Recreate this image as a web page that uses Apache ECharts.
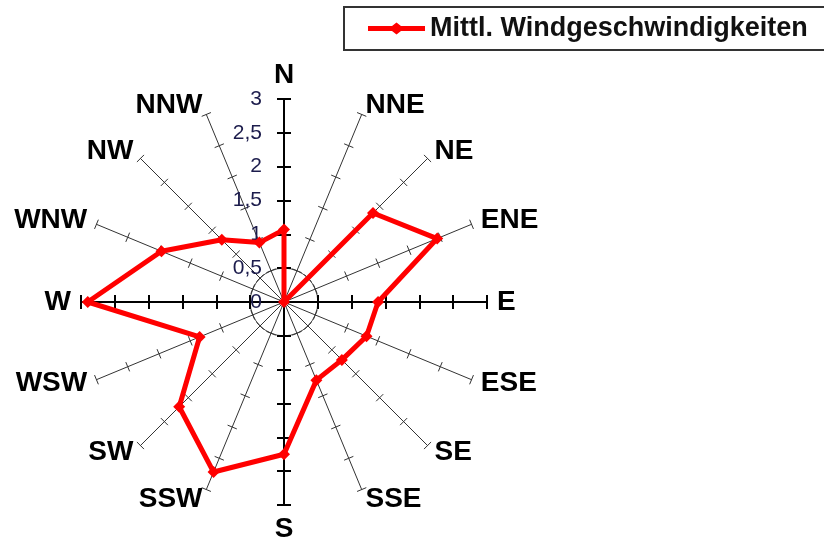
<!DOCTYPE html>
<html><head><meta charset="utf-8">
<script src="https://cdn.jsdelivr.net/npm/echarts@6/dist/echarts.min.js"></script>
<style>html,body{margin:0;padding:0;background:#fff}#c{width:824px;height:540px}</style>
</head><body><div id="c"></div>
<script>
// ---- data ----
const directions = ['N','NNE','NE','ENE','E','ESE','SE','SSE','S','SSW','SW','WSW','W','WNW','NW','NNW'];
const speeds = [1.07, 0, 1.86, 2.45, 1.39, 1.32, 1.21, 1.25, 2.25, 2.72, 2.19, 1.35, 2.9, 1.96, 1.30, 0.95];
const cardinals = ['N','W','S','E'];
const rTickLabels = ['0','0,5','1','1,5','2','2,5','3'];
const seriesName = 'Mittl. Windgeschwindigkeiten';
const rMin = 0, rMax = 3, rStep = 0.5;

// ---- layout ----
const CENTER = [284, 302];
const R = 203;
const FONT = 'Liberation Sans, Arial, sans-serif';

// radar goes counter-clockwise from top; reorder so compass runs clockwise
const ccw = directions.map((_, i) => (directions.length - i) % directions.length);
const ind16 = ccw.map(i => ({ name: directions[i], min: rMin, max: rMax }));
const ind4 = cardinals.map(n => ({ name: n, min: rMin, max: rMax }));
const values = ccw.map(i => speeds[i]);
const nSplit = Math.round((rMax - rMin) / rStep);

function radarBase(indicator, o) {
  return Object.assign({
    center: CENTER, radius: R, startAngle: 90, shape: 'polygon',
    indicator, splitNumber: nSplit, scale: false,
    axisName: { show: false },
    splitLine: { show: false }, splitArea: { show: false },
    axisLine: { show: false }, axisTick: { show: false }, axisLabel: { show: false }
  }, o);
}

const option = {
  animation: false,
  backgroundColor: '#fff',
  textStyle: { fontFamily: FONT },
  legend: {
    left: 344, top: 7,
    padding: [8, 20, 8, 24],
    borderColor: '#333', borderWidth: 2,
    itemWidth: 57, itemHeight: 12,
    data: [{ name: seriesName, icon: 'path://M0,3.5 L24,3.5 L28.5,0 L33,3.5 L57,3.5 L57,8.5 L33,8.5 L28.5,12 L24,8.5 L0,8.5 Z', itemStyle: { color: '#ff0000' } }],
    textStyle: { fontFamily: FONT, fontSize: 27, fontWeight: 'bold', color: '#111' }
  },
  radar: [
    // 16 thin spokes with names and ticks (one side)
    radarBase(ind16, {
      axisName: { show: true, color: '#000', fontFamily: FONT, fontSize: 28, fontWeight: 'bold' },
      nameGap: 10,
      axisLine: { show: true, lineStyle: { color: '#333', width: 1 } },
      axisTick: { show: true, length: 5, lineStyle: { color: '#333', width: 1 } }
    }),
    // other side ticks
    radarBase(ind16, {
      axisTick: { show: true, length: -5, lineStyle: { color: '#333', width: 1 } }
    }),
    // thick cardinal axes
    radarBase(ind4, {
      axisLine: { show: true, lineStyle: { color: '#000', width: 2 } },
      axisTick: { show: true, length: 7, lineStyle: { color: '#000', width: 2 } }
    }),
    radarBase(ind4, {
      axisTick: { show: true, length: -7, lineStyle: { color: '#000', width: 2 } }
    }),
    // small inner circle
    {
      center: CENTER, radius: R * rStep / (rMax - rMin), startAngle: 90, shape: 'circle',
      indicator: ind4.map(d => ({ name: '', max: 1 })), splitNumber: 1,
      axisName: { show: false }, axisLine: { show: false }, splitArea: { show: false },
      splitLine: { show: true, lineStyle: { color: '#444', width: 1 } }
    }
  ],
  polar: { center: CENTER, radius: R },
  angleAxis: { type: 'value', startAngle: 90, min: 0, max: 360, show: false },
  radiusAxis: {
    type: 'value', min: rMin, max: rMax, interval: rStep,
    axisLine: { show: false }, axisTick: { show: false }, splitLine: { show: false },
    axisLabel: {
      show: true, margin: 22, fontFamily: FONT, fontSize: 21, color: '#1c1c4c',
      formatter: v => rTickLabels[Math.round((v - rMin) / rStep)]
    }
  },
  series: [{
    name: seriesName, type: 'radar', radarIndex: 0, z: 10,
    symbol: 'diamond', symbolSize: 12,
    lineStyle: { color: '#ff0000', width: 5 },
    itemStyle: { color: '#ff0000' },
    data: [{ name: seriesName, value: values }]
  }]
};
const chart = echarts.init(document.getElementById('c'), null, { renderer: 'canvas' });
chart.setOption(option);
</script></body></html>
